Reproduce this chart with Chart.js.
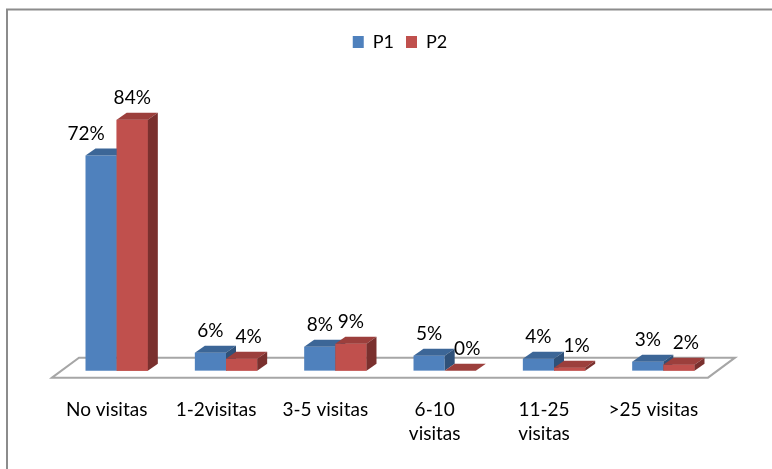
<!DOCTYPE html>
<html>
<head>
<meta charset="utf-8">
<script src="https://cdn.jsdelivr.net/npm/chart.js@4.4.0/dist/chart.umd.min.js"></script>
<style>
  html, body { margin: 0; padding: 0; background: #fff; overflow: hidden; }
</style>
</head>
<body>
<canvas class="visits" width="772" height="469"></canvas>
<script>
// =============== data ======================
var categories = ["No visitas", "1-2visitas", "3-5 visitas", ["6-10", "visitas"], ["11-25", "visitas"], ">25 visitas"];
var seriesNames = ["P1", "P2"];
var p1Values = [72, 6, 8, 5, 4, 3];
var p2Values = [84, 4, 9, 0, 1, 2];

// =============== 3d look ======================
var FONT = "Lato, 'Open Sans', sans-serif";
var SHIFT_X = 10, SHIFT_Y = 7;      // bars stand in the middle of the floor
var DEPTH_X = 10, DEPTH_Y = 7;      // depth of each bar
var FLOOR_X = 27, FLOOR_Y = 20;     // depth of the floor
var faceColors = [
    { front: '#4F81BD', top: '#3C6697', side: '#2F5179' },
    { front: '#C0504D', top: '#9C3F3C', side: '#7A302E' }
];

function drawFaces(ctx, bar, c) {
    var p = bar.getProps(['x', 'y', 'base', 'width'], true);
    var l = p.x - p.width / 2, r = p.x + p.width / 2;
    // top face
    ctx.beginPath();
    ctx.moveTo(l, p.y);
    ctx.lineTo(l + DEPTH_X, p.y - DEPTH_Y);
    ctx.lineTo(r + DEPTH_X, p.y - DEPTH_Y);
    ctx.lineTo(r, p.y);
    ctx.closePath();
    ctx.fillStyle = c.top;
    ctx.fill();
    // side face
    ctx.beginPath();
    ctx.moveTo(r, p.y);
    ctx.lineTo(r + DEPTH_X, p.y - DEPTH_Y);
    ctx.lineTo(r + DEPTH_X, p.base - DEPTH_Y);
    ctx.lineTo(r, p.base);
    ctx.closePath();
    ctx.fillStyle = c.side;
    ctx.fill();
}

var bar3d = {
    id: 'bar3d',
    beforeDraw: function (chart) {
        // outer frame of the chart
        var ctx = chart.ctx;
        ctx.save();
        ctx.strokeStyle = '#8C8C8C';
        ctx.lineWidth = 2;
        ctx.strokeRect(7, 9.5, 900, 600);
        ctx.restore();
    },
    afterLayout: function (chart) {
        // legend sits a bit right of the middle
        chart.legend.left += 20;
        chart.legend.right += 20;
    },
    beforeDatasetsDraw: function (chart) {
        var ctx = chart.ctx, a = chart.chartArea;
        ctx.save();
        ctx.beginPath();
        ctx.moveTo(a.left, a.bottom);
        ctx.lineTo(a.left + FLOOR_X, a.bottom - FLOOR_Y);
        ctx.lineTo(a.right + FLOOR_X, a.bottom - FLOOR_Y);
        ctx.lineTo(a.right, a.bottom);
        ctx.closePath();
        ctx.fillStyle = '#fff';
        ctx.fill();
        ctx.lineWidth = 2;
        ctx.strokeStyle = '#A6A6A6';
        ctx.stroke();
        ctx.restore();

        ctx.save();
        ctx.translate(SHIFT_X, -SHIFT_Y);
    },
    afterDatasetsDraw: function (chart) {
        var ctx = chart.ctx;
        var blue = chart.getDatasetMeta(0), red = chart.getDatasetMeta(1);

        // P1 faces, then P2 front again so it hides P1's side, then P2 faces
        blue.data.forEach(function (bar, i) {
            drawFaces(ctx, bar, faceColors[0]);
            red.data[i].draw(ctx);
            drawFaces(ctx, red.data[i], faceColors[1]);
        });
        ctx.restore();

        // value labels
        ctx.save();
        ctx.font = '19px ' + FONT;
        ctx.fillStyle = '#000';
        ctx.textAlign = 'center';
        ctx.textBaseline = 'middle';
        blue.data.forEach(function (bar, i) {
            var p = bar.getProps(['x', 'y'], true);
            var dx = (p2Values[i] - p1Values[i] > 5) ? -15 : 0;
            ctx.fillText(p1Values[i] + '%', p.x + SHIFT_X + dx, p.y - SHIFT_Y - 22);
        });
        red.data.forEach(function (bar, i) {
            var p = bar.getProps(['x', 'y'], true);
            var dx = (p2Values[i] < p1Values[i]) ? 7 : 0;
            ctx.fillText(p2Values[i] + '%', p.x + SHIFT_X + dx, p.y - SHIFT_Y - 22);
        });
        ctx.restore();
    }
};

// =============== chart ======================
var ctx = document.querySelector('.visits');

var myChart = new Chart(ctx, {
    type: 'bar',
    data: {
        labels: categories,
        datasets: [{
            label: seriesNames[0],
            data: p1Values,
            backgroundColor: faceColors[0].front
        }, {
            label: seriesNames[1],
            data: p2Values,
            backgroundColor: faceColors[1].front
        }]
    },
    options: {
        responsive: false,
        animation: false,
        layout: {
            padding: { left: 52, right: 64, top: 21, bottom: 3 }
        },
        datasets: {
            bar: {
                categoryPercentage: 0.57,
                barPercentage: 1,
                borderWidth: 0,
                clip: false
            }
        },
        plugins: {
            legend: {
                position: 'top',
                labels: {
                    boxWidth: 11,
                    boxHeight: 12,
                    padding: 12,
                    color: '#000',
                    font: { family: FONT, size: 18 }
                }
            },
            tooltip: { enabled: false }
        },
        scales: {
            x: {
                grid: { display: false, drawTicks: false },
                border: { display: false },
                ticks: {
                    color: '#000',
                    padding: 21,
                    maxRotation: 0,
                    autoSkip: false,
                    font: { family: FONT, size: 19, lineHeight: 1.22 }
                }
            },
            y: {
                display: false,
                beginAtZero: true,
                min: 0,
                max: 106
            }
        }
    },
    plugins: [bar3d]
});
</script>
</body>
</html>
